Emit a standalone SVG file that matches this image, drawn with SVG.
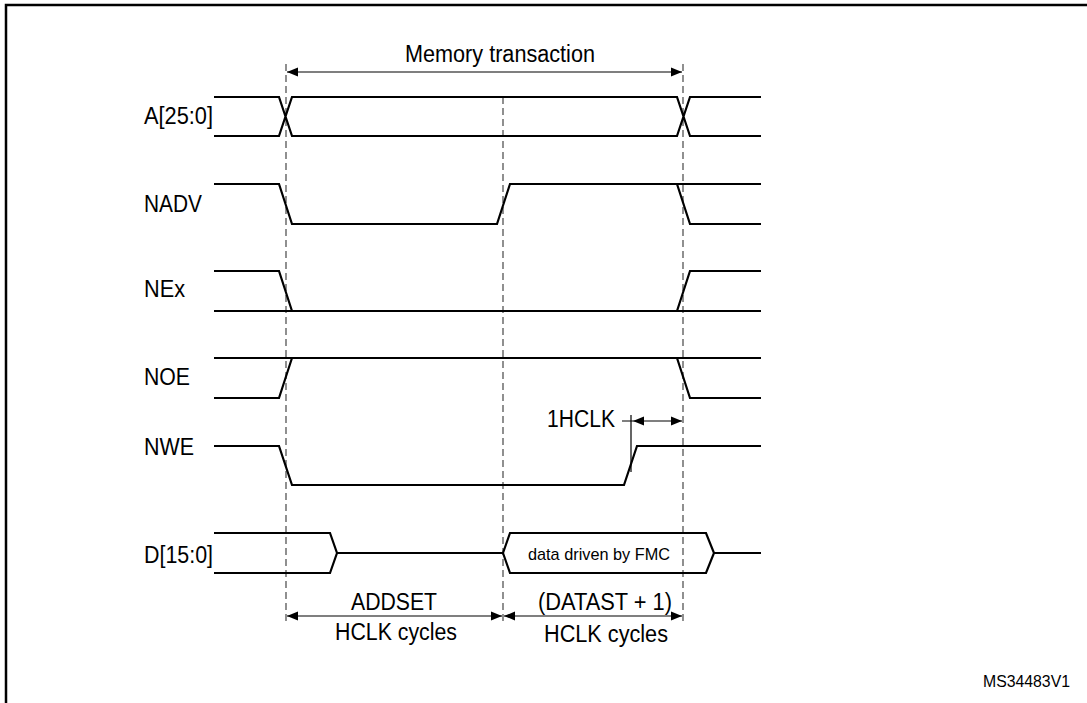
<svg xmlns="http://www.w3.org/2000/svg" width="1087" height="703" viewBox="0 0 1087 703">
<style>
.s{fill:none;stroke:#000;stroke-width:2.2;stroke-linejoin:miter}
.t{fill:none;stroke:#000;stroke-width:1.2}
.d{fill:none;stroke:#555;stroke-width:1.3;stroke-dasharray:7,4}
text{font-family:"Liberation Sans",Arial,sans-serif;fill:#000}
.l{font-size:23px}
</style>
<defs>
<marker id="a" viewBox="0 0 10 10" refX="10" refY="5" markerWidth="11" markerHeight="11" markerUnits="userSpaceOnUse" orient="auto-start-reverse"><path d="M0,1 L10,5 L0,9 z" fill="#000"/></marker>
</defs>
<path d="M6,703V5H1087" fill="none" stroke="#000" stroke-width="2.5"/>
<g id="connectors">
<path class="d" d="M286,64V625M503,97V625M683,64V625"/>
<path class="t" d="M287,72H682" marker-start="url(#a)" marker-end="url(#a)"/>
<path class="t" d="M287,616H502" marker-start="url(#a)" marker-end="url(#a)"/>
<path class="t" d="M504,616H682" marker-start="url(#a)" marker-end="url(#a)"/>
<path class="t" d="M633,421H682" marker-start="url(#a)" marker-end="url(#a)"/>
<path class="t" d="M622,421H633M631,415V472"/>
</g>
<g id="A"><text class="l" x="144" y="124" textLength="69" lengthAdjust="spacingAndGlyphs">A[25:0]</text>
<path class="s" d="M214,97H279L292,136H677L690,97H761M214,136H279L292,97H677L690,136H761"/></g>
<g id="NADV"><text class="l" x="144" y="212" textLength="58" lengthAdjust="spacingAndGlyphs">NADV</text>
<path class="s" d="M214,184H279L292,224H497L510,184H761M677,184L690,224H761"/></g>
<g id="NEx"><text class="l" x="144" y="297" textLength="41" lengthAdjust="spacingAndGlyphs">NEx</text>
<path class="s" d="M214,271H279L292,311H761M214,311H292M677,311L690,271H761"/></g>
<g id="NOE"><text class="l" x="144" y="385" textLength="46" lengthAdjust="spacingAndGlyphs">NOE</text>
<path class="s" d="M214,358H761M214,398H279L292,358M677,358L690,398H761"/></g>
<g id="NWE"><text class="l" x="144" y="455" textLength="50" lengthAdjust="spacingAndGlyphs">NWE</text>
<path class="s" d="M214,446H279L292,485H624L637,446H761"/></g>
<g id="D"><text class="l" x="144" y="563" textLength="69" lengthAdjust="spacingAndGlyphs">D[15:0]</text>
<path class="s" d="M214,533H330L337,553L330,573H214M337,553H503L510,533H706L714,553L706,573H510L503,553M714,553H761"/>
<text x="599" y="560" font-size="17" text-anchor="middle" textLength="142" lengthAdjust="spacingAndGlyphs">data driven by FMC</text></g>
<g id="labels">
<text class="l" x="500" y="62" text-anchor="middle" textLength="190" lengthAdjust="spacingAndGlyphs">Memory transaction</text>
<text class="l" x="547" y="427" textLength="68" lengthAdjust="spacingAndGlyphs">1HCLK</text>
<text class="l" x="351" y="610" textLength="86" lengthAdjust="spacingAndGlyphs">ADDSET</text>
<text class="l" x="335" y="640" textLength="122" lengthAdjust="spacingAndGlyphs">HCLK cycles</text>
<text class="l" x="538" y="610" textLength="134" lengthAdjust="spacingAndGlyphs">(DATAST + 1)</text>
<text class="l" x="544" y="642" textLength="124" lengthAdjust="spacingAndGlyphs">HCLK cycles</text>
<text x="983" y="687" font-size="16" textLength="87" lengthAdjust="spacingAndGlyphs">MS34483V1</text>
</g>
</svg>
